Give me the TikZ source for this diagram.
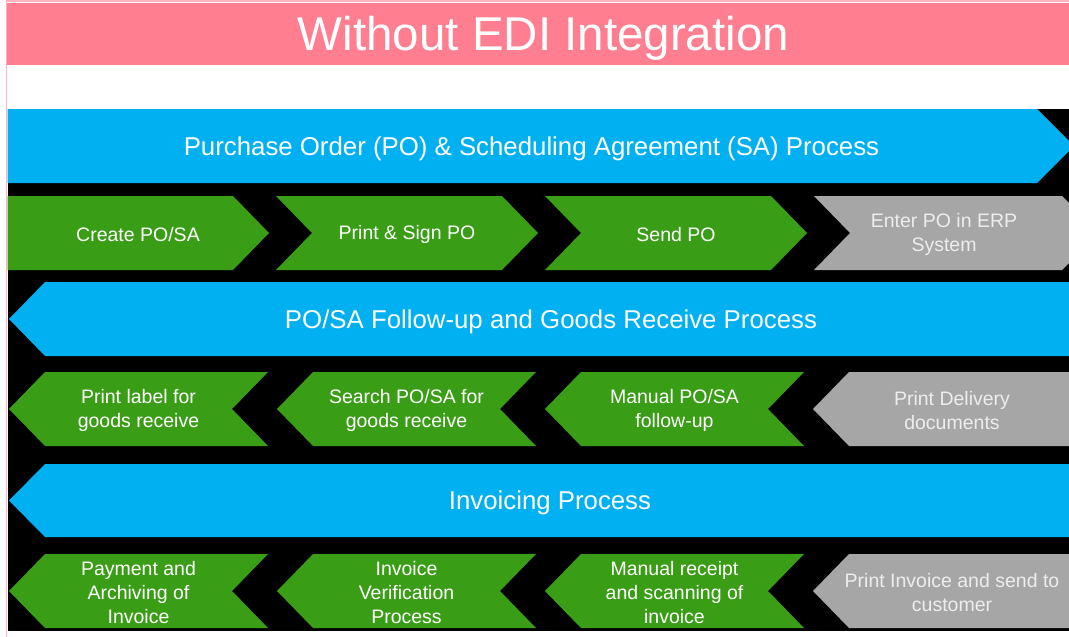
\documentclass[tikz,border=0pt]{standalone}
\usepackage{fontspec}
\setmainfont{Liberation Sans}
\usepackage{tikz}
\usetikzlibrary{positioning}

\definecolor{titlepink}{HTML}{FF7F90}
\definecolor{framepink}{HTML}{FFB3BE}
\definecolor{bandblue}{HTML}{00B0F0}
\definecolor{stepgreen}{HTML}{3A9D16}
\definecolor{stepgrey}{HTML}{A6A6A6}
\definecolor{greytext}{HTML}{EDEDED}

\begin{document}
\begin{tikzpicture}[
    x=1pt, y=-1pt,
    band/.style={fill=bandblue},
    chevgreen/.style={fill=stepgreen},
    chevgrey/.style={fill=stepgrey},
    titletext/.style={text=white, font=\fontsize{47.5}{50}\selectfont},
    bandtext/.style={text=white, font=\fontsize{25.8}{28}\selectfont},
    steptext/.style={text=white, align=center, font=\fontsize{19.5}{24}\selectfont},
    greytext/.style={steptext, text=greytext}
]
\useasboundingbox (0,0) rectangle (1069,637);
\clip (0,0) rectangle (1069,637);

% Title
\fill[titlepink] (7,3) rectangle (1069,65);
\draw[framepink, line width=1.5] (1069,1) -- (6.5,1) -- (6.5,637);
\node[titletext] (title) at (543.5,38.5) {Without EDI Integration};

% Background
\fill[black] (7.5,109) rectangle (1069,631);

% Purchase order process
\fill[band] (7.5,109) -- (1037,109) -- (1074,146) -- (1037,183) -- (7.5,183) -- cycle;
\node[bandtext] (poband) at (531.5,148.5) {Purchase Order (PO) \& Scheduling Agreement (SA) Process};

\fill[chevgreen] (7.5,196) -- (233,196) -- (269,233) -- (233,270) -- (7.5,270) -- cycle;
\node[steptext] (create) at (138,234.5) {Create PO/SA};
\foreach \i/\nm/\txt in {1/printpo/{Print \& Sign PO}, 2/sendpo/{Send PO}} {
  \pgfmathsetmacro{\xa}{7+269*\i}
  \fill[chevgreen] (\xa,196) -- ++(226,0) -- ++(36,37) -- ++(-36,37) -- ++(-226,0) -- ++(36,-37) -- cycle;
  \node[steptext] (\nm) at (\xa+131,234.5) {\txt};
}
\fill[chevgrey] (814,196) -- (1062,196) -- (1099,233) -- (1062,270) -- (814,270) -- (850,233) -- cycle;
\node[greytext] (enterpo) at (944,234.5) {Enter PO in ERP\\System};

% Follow-up process
\fill[band] (9,319) -- (45,282) -- (1069,282) -- (1069,356) -- (45,356) -- cycle;
\node[bandtext] (followband) at (551,321.5) {PO/SA Follow-up and Goods Receive Process};

\foreach \i/\nm/\txt in {0/printlabel/{Print label for\\goods receive}, 1/searchpo/{Search PO/SA for\\goods receive}, 2/manualpo/{Manual PO/SA\\follow-up}} {
  \pgfmathsetmacro{\xa}{9+268*\i}
  \fill[chevgreen] (\xa,409) -- ++(36,-37) -- ++(223,0) -- ++(-36,37) -- ++(36,37) -- ++(-223,0) -- cycle;
  \node[steptext] (\nm) at (\xa+129.5,410.5) {\txt};
}
\fill[chevgrey] (813,409) -- (849,372) -- (1069,372) -- (1069,446) -- (849,446) -- cycle;
\node[greytext] (printdel) at (952,410.5) {Print Delivery\\documents};

% Invoicing process
\fill[band] (9,500.5) -- (45,464) -- (1069,464) -- (1069,537) -- (45,537) -- cycle;
\node[bandtext] (invband) at (550,503) {Invoicing Process};

\foreach \i/\nm/\txt in {0/payment/{Payment and\\Archiving of\\Invoice}, 1/verify/{Invoice\\Verification\\Process}, 2/receipt/{Manual receipt\\and scanning of\\invoice}} {
  \pgfmathsetmacro{\xa}{9+268*\i}
  \fill[chevgreen] (\xa,591) -- ++(36,-37) -- ++(223,0) -- ++(-36,37) -- ++(36,37) -- ++(-223,0) -- cycle;
  \node[steptext] (\nm) at (\xa+129.5,592.5) {\txt};
}
\fill[chevgrey] (813,591) -- (849,554) -- (1069,554) -- (1069,628) -- (849,628) -- cycle;
\node[greytext] (printinv) at (952,592.5) {Print Invoice and send to\\customer};

\end{tikzpicture}
\end{document}
